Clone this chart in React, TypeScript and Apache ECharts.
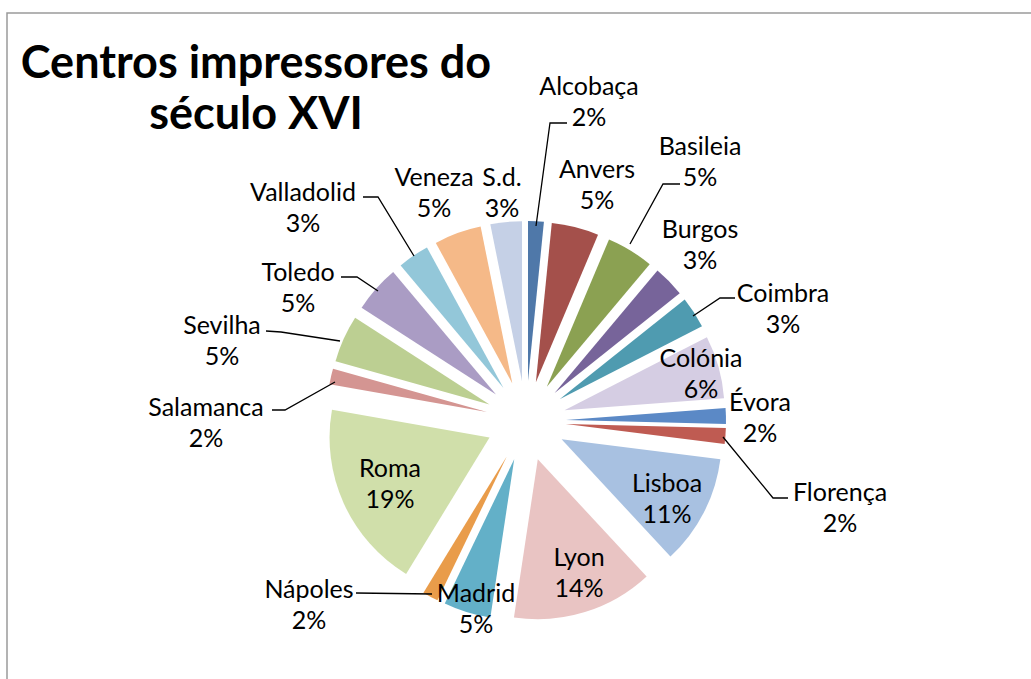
import React, { useEffect, useRef } from "react";
import * as echarts from "echarts";

const categories = [
  "Alcobaça", "Anvers", "Basileia", "Burgos", "Coimbra", "Colónia", "Évora",
  "Florença", "Lisboa", "Lyon", "Madrid", "Nápoles", "Roma", "Salamanca",
  "Sevilha", "Toledo", "Valladolid", "Veneza", "S.d.",
];
// number of printed works per printing centre (total 63)
const counts = [1, 3, 3, 2, 2, 4, 1, 1, 7, 9, 3, 1, 12, 1, 3, 3, 2, 3, 2];

const colors = [
  "#4F78A9", "#A4504B", "#8BA152", "#77649A", "#4F9BB0", "#D5CDE3", "#5B89C6",
  "#BF5B52", "#A8C1E1", "#E9C4C3", "#63B0C8", "#E99C4A", "#D0DFAA", "#D49592",
  "#BCCF92", "#AA9CC4", "#93C7D9", "#F5B988", "#C5D0E6",
];

// label placement (centre of the two-line label) and leader lines
const labelPos: Record<string, [number, number]> = {
  "Alcobaça": [589, 100], "Anvers": [597, 183], "Basileia": [700, 160],
  "Burgos": [700, 243], "Coimbra": [783, 307], "Colónia": [701, 372],
  "Évora": [760, 416], "Florença": [840, 506], "Lisboa": [667, 497],
  "Lyon": [579, 571], "Madrid": [476, 607], "Nápoles": [309, 603],
  "Roma": [390, 482], "Salamanca": [206, 421], "Sevilha": [222, 339],
  "Toledo": [298, 286], "Valladolid": [303, 206], "Veneza": [434, 191],
  "S.d.": [502, 191],
};
const leaders: Record<string, number[][]> = {
  "Alcobaça": [[536, 226], [550, 123], [567, 123]],
  "Basileia": [[630, 244], [663, 184], [680, 184]],
  "Coimbra": [[693, 316], [720, 298], [735, 298]],
  "Florença": [[723, 437], [773, 498], [788, 498]],
  "Nápoles": [[432, 594], [356, 593]],
  "Salamanca": [[335, 382], [285, 410], [272, 410]],
  "Sevilha": [[340, 341], [281, 332], [266, 331]],
  "Toledo": [[378, 291], [357, 277], [341, 277]],
  "Valladolid": [[414, 256], [378, 197], [363, 197]],
};

const TOTAL = counts.reduce((a, b) => a + b, 0);

export default function App() {
  const ref = useRef<HTMLDivElement>(null);
  useEffect(() => {
    document.body.style.margin = "0";
    const chart = echarts.init(ref.current!, null, { renderer: "svg" });
    const sliceData = categories.map((name, i) => ({
      name,
      value: counts[i],
      selected: true,
      itemStyle: { color: colors[i] },
    }));
    const labelData = categories.map((name, i) => ({
      name,
      value: counts[i],
      labelLine: { show: !!leaders[name] },
    }));
    chart.setOption({
      animation: false,
      title: {
        text: "Centros impressores do\nséculo XVI",
        left: 251,
        top: 30,
        textAlign: "center",
        textStyle: {
          fontFamily: "Lato",
          fontWeight: "bold",
          fontSize: 45,
          lineHeight: 51,
          color: "#000",
        },
      },
      graphic: [
        {
          type: "rect",
          shape: { x: 7, y: 13, width: 1100, height: 700 },
          style: { fill: "none", stroke: "#9a9a9a", lineWidth: 1.5 },
          silent: true,
        },
      ],
      series: [
        {
          type: "pie",
          center: [526, 421],
          radius: 160,
          startAngle: 90,
          clockwise: true,
          selectedMode: "multiple",
          selectedOffset: 40,
          emphasis: { disabled: true },
          select: { itemStyle: { borderWidth: 0 } },
          label: { show: false },
          labelLine: { show: false },
          data: sliceData,
        },
        {
          type: "pie",
          center: [526, 421],
          radius: 160,
          startAngle: 90,
          clockwise: true,
          silent: true,
          z: 3,
          emphasis: { disabled: true },
          itemStyle: { color: "rgba(0,0,0,0)" },
          data: labelData,
          label: {
            show: true,
            position: "outside",
            color: "#000",
            fontFamily: "Lato",
            fontSize: 25,
            lineHeight: 31,
            align: "center",
            formatter: (p: any) =>
              `${p.name}\n${Math.round((p.value / TOTAL) * 100)}%`,
          },
          labelLine: {
            lineStyle: { color: "#000", width: 1.3 },
          },
          labelLayout: (p: any) => {
            const name = categories[p.dataIndex];
            const pos = labelPos[name];
            const out: any = {
              x: pos[0],
              y: pos[1],
              align: "center",
              verticalAlign: "middle",
            };
            if (leaders[name]) out.labelLinePoints = leaders[name];
            return out;
          },
        },
      ],
    });
    return () => chart.dispose();
  }, []);
  return <div ref={ref} style={{ width: 1031, height: 679 }} />;
}
